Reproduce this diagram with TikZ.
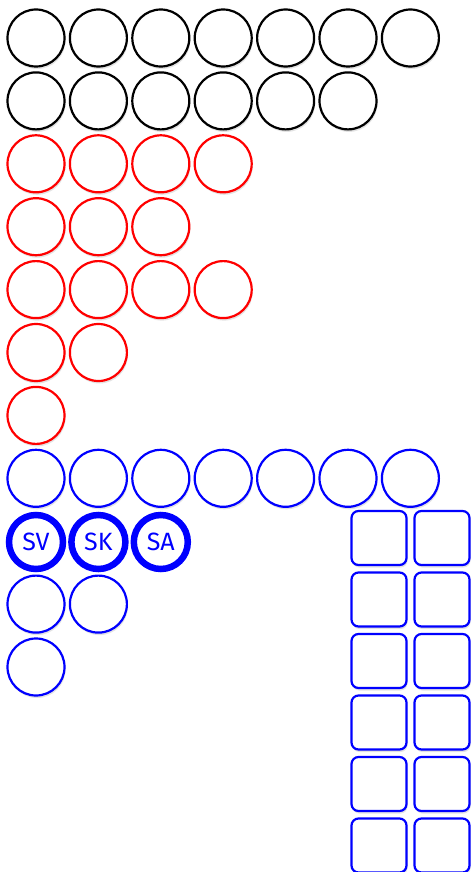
\documentclass[tikz,border=0pt]{standalone}
\usepackage{fontspec}
\setmainfont{Fira Sans}
\usepackage{tikz}
\usetikzlibrary{shadows}

\begin{document}
\begin{tikzpicture}[x=1pt, y=-1pt,
  ring/.style={circle, draw=#1, line width=2.2pt, fill=white,
               minimum size=57pt, inner sep=0pt,
               drop shadow={opacity=0.22, shadow xshift=1pt, shadow yshift=-2.5pt}},
  bold ring/.style={ring=blue, line width=6.5pt, minimum size=54pt,
               text=blue, font=\fontsize{25}{26}\selectfont},
  slot/.style={draw=blue, line width=2.2pt, fill=white, rounded corners=7pt,
               minimum width=55pt, minimum height=54pt, inner sep=0pt,
               drop shadow={opacity=0.22, shadow xshift=1pt, shadow yshift=-2.5pt}}
]
\useasboundingbox (0,0) rectangle (471,872);

% circle rows: row / count / colour
\foreach \r/\n/\col in {1/7/black, 2/6/black, 3/4/red, 4/3/red, 5/4/red,
                        6/2/red, 7/1/red, 8/7/blue, 10/2/blue, 11/1/blue} {
  \foreach \c in {1,...,\n}
    \node[ring=\col] (c-\r-\c) at ({36+62.4*(\c-1)}, {38+62.9*(\r-1)}) {};
}

% labelled row
\node[bold ring] (sv) at (36, 542)    {SV};
\node[bold ring] (sk) at (98.4, 542)  {SK};
\node[bold ring] (sa) at (160.8, 542) {SA};

% rounded squares
\foreach \k in {1,...,6} {
  \node[slot] (q-\k-1) at (379, {538+61.5*(\k-1)}) {};
  \node[slot] (q-\k-2) at (442, {538+61.5*(\k-1)}) {};
}
\end{tikzpicture}
\end{document}
